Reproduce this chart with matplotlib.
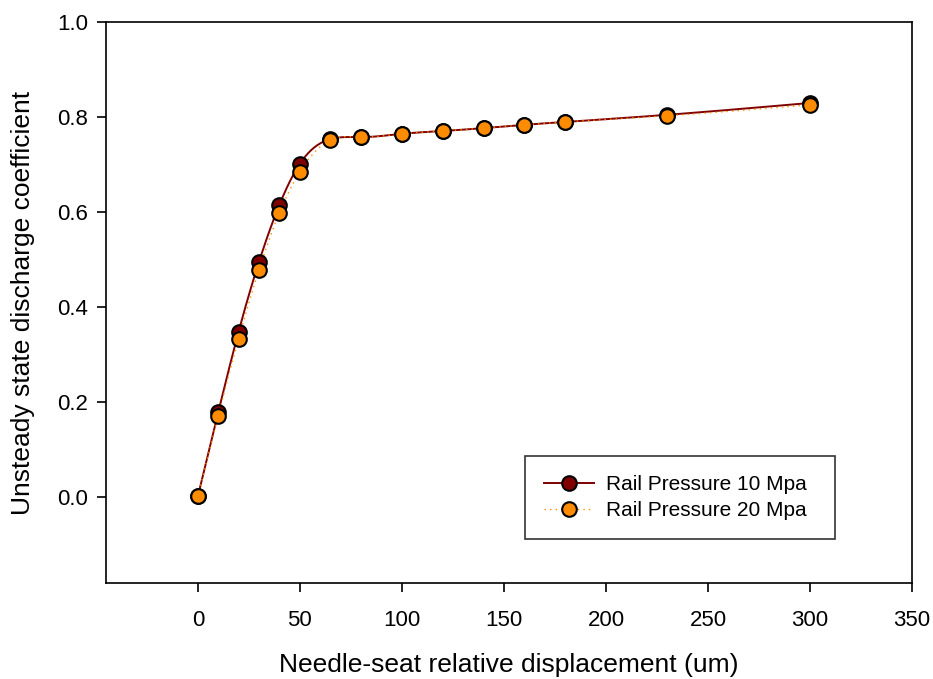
import numpy as np
import matplotlib
matplotlib.use("Agg")
import matplotlib.pyplot as plt

plt.rcParams['font.family'] = ['Liberation Sans', 'DejaVu Sans']

displacement = [0, 10, 20, 30, 40, 50, 65, 80, 100, 120, 140, 160, 180, 230, 300]
cd_10mpa = [0.002, 0.179, 0.349, 0.496, 0.616, 0.702, 0.754, 0.758, 0.765, 0.771, 0.777, 0.784, 0.790, 0.805, 0.830]
cd_20mpa = [0.002, 0.172, 0.334, 0.479, 0.599, 0.685, 0.752, 0.758, 0.765, 0.771, 0.777, 0.784, 0.790, 0.803, 0.826]
labels = ["Rail Pressure 10 Mpa", "Rail Pressure 20 Mpa"]
xticks = [0, 50, 100, 150, 200, 250, 300, 350]
yticks = [0.0, 0.2, 0.4, 0.6, 0.8, 1.0]


def natural_spline(x, y, n=600):
    x = np.asarray(x, float)
    y = np.asarray(y, float)
    k = len(x)
    h = np.diff(x)
    A = np.zeros((k, k))
    b = np.zeros(k)
    A[0, 0] = 1
    A[-1, -1] = 1
    for i in range(1, k - 1):
        A[i, i - 1] = h[i - 1]
        A[i, i] = 2 * (h[i - 1] + h[i])
        A[i, i + 1] = h[i]
        b[i] = 6 * ((y[i + 1] - y[i]) / h[i] - (y[i] - y[i - 1]) / h[i - 1])
    M = np.linalg.solve(A, b)
    xs = np.linspace(x[0], x[-1], n)
    idx = np.clip(np.searchsorted(x, xs) - 1, 0, k - 2)
    x0, x1 = x[idx], x[idx + 1]
    hh = x1 - x0
    t0 = x1 - xs
    t1 = xs - x0
    ys = (M[idx] * t0**3 / (6 * hh) + M[idx + 1] * t1**3 / (6 * hh)
          + (y[idx] / hh - M[idx] * hh / 6) * t0
          + (y[idx + 1] / hh - M[idx + 1] * hh / 6) * t1)
    return xs, ys


fig = plt.figure(figsize=(9.33, 6.79), dpi=100)
ax = fig.add_axes([0.1136, 0.1414, 0.864, 0.826])

c1 = '#800000'
c2 = '#ff8c00'
ms = 10.5

xs, ys = natural_spline(displacement, cd_10mpa)
ax.plot(xs, ys, color=c1, lw=1.4, zorder=2)
xs2, ys2 = natural_spline(displacement, cd_20mpa)
ax.plot(xs2, ys2, color=c2, lw=1.0, ls=(0, (1, 3)), zorder=2)

ax.plot(displacement, cd_10mpa, ls='none', marker='o', ms=ms, mfc=c1, mec='black', mew=1.5, zorder=3)
ax.plot(displacement, cd_20mpa, ls='none', marker='o', ms=ms, mfc=c2, mec='black', mew=1.5, zorder=4)

h1, = ax.plot([], [], color=c1, lw=1.4, marker='o', ms=ms, mfc=c1, mec='black', mew=1.5)
h2, = ax.plot([], [], color=c2, lw=1.0, ls=(0, (1, 3)), marker='o', ms=ms, mfc=c2, mec='black', mew=1.5)

ax.set_xlim(-45, 350)
ax.set_ylim(-0.18, 1.0)
ax.set_xticks(xticks)
ax.set_yticks(yticks)
ax.set_yticklabels([f"{v:.1f}" for v in yticks])
ax.tick_params(direction='out', length=6.5, width=1.2, labelsize=16, pad=6.5, colors='black')
ax.tick_params(axis='x', pad=13)
for s in ax.spines.values():
    s.set_linewidth(1.2)

ax.set_xlabel("Needle-seat relative displacement (um)", fontsize=19, labelpad=16)
ax.set_ylabel("Unsteady state discharge coefficient", fontsize=19, labelpad=16)

leg = ax.legend([h1, h2], labels, loc='lower left', bbox_to_anchor=(0.5199, 0.0784, 0.3846, 0.1497),
                mode='expand', fontsize=15, frameon=True, fancybox=False, edgecolor='black',
                handlelength=2.4, borderpad=0.9, labelspacing=0.35, handletextpad=0.6,
                borderaxespad=0)
leg.get_frame().set_linewidth(1.2)

fig.savefig("out.png", dpi=100)
